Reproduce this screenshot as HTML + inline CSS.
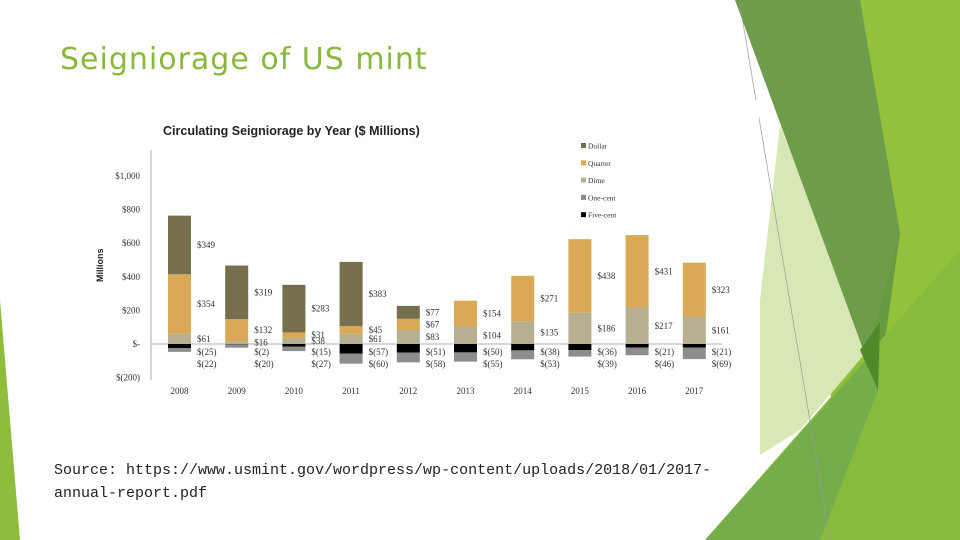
<!DOCTYPE html>
<html><head><meta charset="utf-8"><style>
html,body{margin:0;padding:0;background:#fff;}
#slide{position:relative;width:960px;height:540px;overflow:hidden;background:#fff;font-family:"Liberation Sans",sans-serif;}
.title{position:absolute;left:60px;top:42px;color:#8ab83c;letter-spacing:1px;font-family:"DejaVu Sans","Liberation Sans",sans-serif;font-size:30px;}
.src{position:absolute;left:54px;top:459px;font-family:"Liberation Mono",monospace;font-size:15px;line-height:23px;color:#222;}
</style></head><body>
<div id="slide">
<svg width="960" height="540" style="position:absolute;left:0;top:0">
 <polygon points="860,0,960,0,960,540,820,540" fill="#92c23c"/>
 <polygon points="780,125,868,350,800,430,760,455,760,300" fill="#d8e8b4"/>
 <polygon points="735,0,860,0,900,233,878,390" fill="#6e9c4a"/>
 <polygon points="868,350,900,233,878,390" fill="#6a9a40"/>
 <polygon points="705,540,960,250,960,540" fill="#86bb3e"/>
 <polygon points="705,540,880,345,878,390,820,540" fill="#74ad4a"/>
 <polygon points="860,350,880,322,878,390" fill="#4f8a2a"/>
 <polygon points="0,300,20,540,0,540" fill="#8dbd3a"/>
 <line x1="740" y1="5" x2="830" y2="540" stroke="#999" stroke-width="0.7"/>
</svg>
<div style="position:absolute;left:88px;top:100px;width:671px;height:355px;background:#fff"></div>
<div class="title">Seigniorage of US mint</div>
<svg id="chart" width="960" height="540" style="position:absolute;left:0;top:0"></svg>
<div class="src">Source: https://www.usmint.gov/wordpress/wp-content/uploads/2018/01/2017-<br>annual-report.pdf</div>
</div>
<script>
const years=["2008","2009","2010","2011","2012","2013","2014","2015","2016","2017"];
const dollar=[349,319,283,383,77,0,0,0,0,0];
const quarter=[354,132,31,45,67,154,271,438,431,323];
const dime=[61,16,38,61,83,104,135,186,217,161];
const fiveCent=[-25,-2,-15,-57,-51,-50,-38,-36,-21,-21];
const oneCent=[-22,-20,-27,-60,-58,-55,-53,-39,-46,-69];
const yTicks=[1000,800,600,400,200,0,-200];
const yTickLabels=["$1,000","$800","$600","$400","$200","$-","$(200)"];
const seriesNames=["Dollar","Quarter","Dime","One-cent","Five-cent"];
const colors={Dollar:"#756f4d",Quarter:"#d9a955",Dime:"#b6af91","One-cent":"#8d8d8d","Five-cent":"#000"};

const svg=document.getElementById('chart');
const NS="http://www.w3.org/2000/svg";
const y0=344, k=0.168;
const y=v=>y0-v*k;
const x=i=>179.5+i*57.2;
const bw=23;
function el(tag,attrs,parent){const e=document.createElementNS(NS,tag);for(const a in attrs)e.setAttribute(a,attrs[a]);(parent||svg).appendChild(e);return e;}
function txt(s,attrs){const t=el('text',attrs);t.textContent=s;return t;}
const serif='"Liberation Serif",serif';
let t=txt("Circulating Seigniorage by Year ($ Millions)",{x:163,y:135,'font-size':12.5,'font-weight':'bold','font-family':'"Liberation Sans",sans-serif',fill:'#222'});

let ax=el('line',{x1:151,y1:150,x2:151,y2:380,stroke:'#999','stroke-width':0.8});

let zl=el('line',{x1:151,y1:y0,x2:722,y2:y0,stroke:'#999','stroke-width':0.8});

yTicks.forEach((v,i)=>{const l=txt(yTickLabels[i],{x:140,y:y(v)+3,'font-size':9,'text-anchor':'end','font-family':serif,fill:'#333'});
});
let yt=txt("Millions",{x:0,y:0,'font-size':9,'font-weight':'bold','font-family':'"Liberation Sans",sans-serif',fill:'#222',transform:'translate(103,282) rotate(-90)'});

const fmt=v=>v<0?"$("+(-v)+")":"$"+v;
years.forEach((yr,i)=>{
 const cx=x(i),lx=cx+bw/2+6;
 let xl=txt(yr,{x:cx,y:394,'font-size':9,'text-anchor':'middle','font-family':serif,fill:'#333'});
 
 const pos=[["Dime",dime[i]],["Quarter",quarter[i]],["Dollar",dollar[i]]];
 let base=0;
 pos.forEach(([n,v])=>{ if(v<=0)return;
  const r=el('rect',{x:cx-bw/2,y:y(base+v),width:bw,height:v*k,fill:colors[n]});
  
  const l=txt(fmt(v),{x:lx,y:y(base+v/2)+3,'font-size':9,'font-family':serif,fill:'#333'});
  
  base+=v;});
 const f=fiveCent[i],o=oneCent[i];
 const r1=el('rect',{x:cx-bw/2,y:y0,width:bw,height:-f*k,fill:colors["Five-cent"]});
 
 const r2=el('rect',{x:cx-bw/2,y:y(f),width:bw,height:-o*k,fill:colors["One-cent"]});
 
 const l1=txt(fmt(f),{x:lx,y:355,'font-size':9,'font-family':serif,fill:'#333'});
 
 const l2=txt(fmt(o),{x:lx,y:367,'font-size':9,'font-family':serif,fill:'#333'});
 
});
seriesNames.forEach((n,i)=>{const ly=146+i*17.3;
 const s=el('rect',{x:581,y:ly-3,width:5,height:5,fill:colors[n]});
 
 const l=txt(n,{x:588,y:ly+2.5,'font-size':7.5,'font-family':serif,fill:'#333'});
 
});
</script>
</body></html>
